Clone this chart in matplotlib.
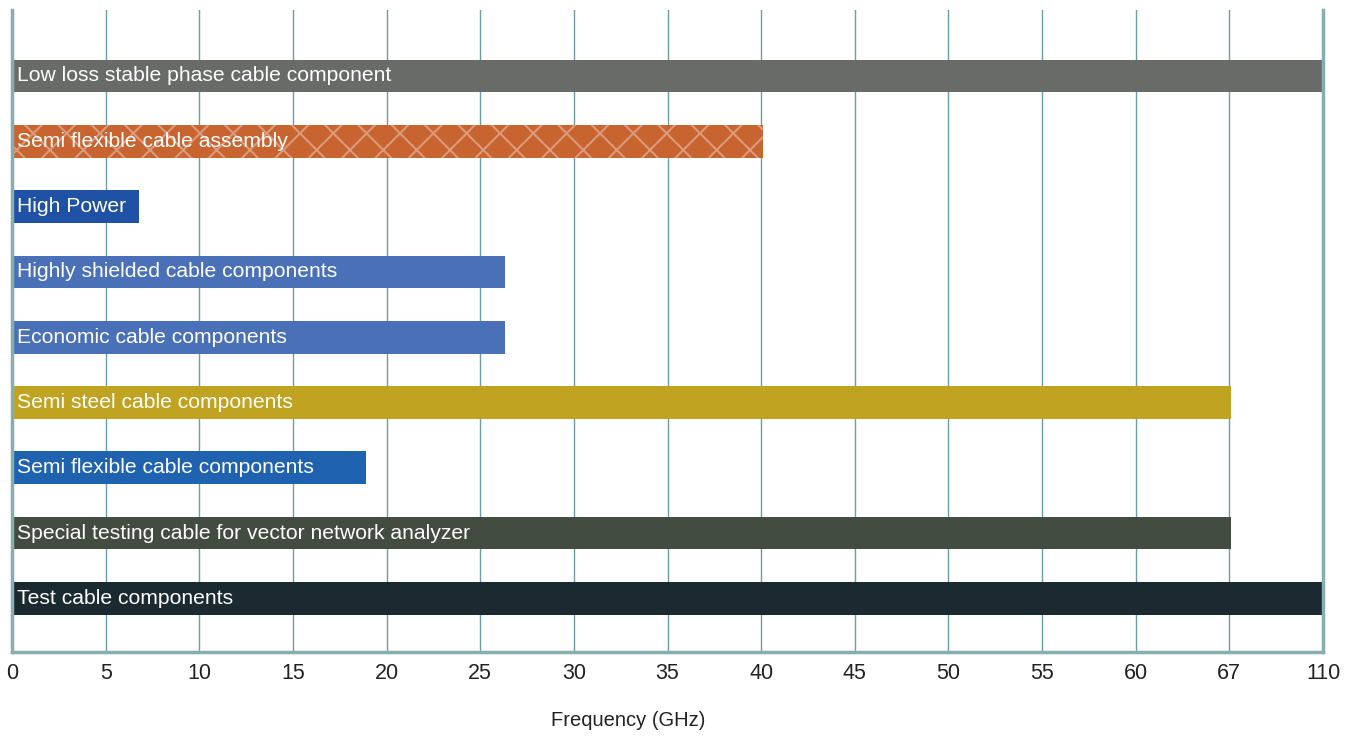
import numpy as np
import matplotlib
matplotlib.use("Agg")
import matplotlib.pyplot as plt

plt.rcParams['font.family'] = ['Liberation Sans', 'DejaVu Sans']
plt.rcParams['hatch.linewidth'] = 1.5

# tick values shown on the axis (equally spaced, non-linear scale)
tick_vals = [0, 5, 10, 15, 20, 25, 30, 35, 40, 45, 50, 55, 60, 67, 110]
tick_labels = [str(v) for v in tick_vals]

products = [
    "Low loss stable phase cable component",
    "Semi flexible cable assembly",
    "High Power",
    "Highly shielded cable components",
    "Economic cable components",
    "Semi steel cable components",
    "Semi flexible cable components",
    "Special testing cable for vector network analyzer",
    "Test cable components",
]
freq_ghz = [110, 40, 6.7, 26.2, 26.2, 67, 18.8, 67, 110]
colors = ["#696b69", "#c8642f", "#1f52a5", "#4a70b8", "#4a70b8",
          "#c0a320", "#1f62b0", "#434c40", "#1b2a31"]
hatches = [None, "x", None, None, None, None, None, None, None]

tick_pos = np.arange(len(tick_vals))
bar_len = np.interp(freq_ghz, tick_vals, tick_pos)
ypos = np.arange(len(products))[::-1]

fig = plt.figure(figsize=(13.6, 7.36), dpi=100)
ax = fig.add_axes([12 / 1360, 1 - 652 / 736, (1323 - 12) / 1360, (652 - 10) / 736])

grid_c = "#6a9ea3"
for p in tick_pos:
    ax.axvline(p, color=grid_c, lw=1, zorder=0)

for i in range(len(products)):
    if hatches[i]:
        ax.barh(ypos[i], bar_len[i], height=0.5, left=0.02, color=colors[i],
                hatch=hatches[i], edgecolor="#dc9a7c", lw=0, zorder=2)
    else:
        ax.barh(ypos[i], bar_len[i], height=0.5, left=0.02, color=colors[i],
                lw=0, zorder=2)
    ax.text(0.05, ypos[i], products[i], color="white", fontsize=15.2,
            va="center", ha="left", zorder=3)

ax.set_xlim(0, tick_pos[-1])
ax.set_ylim(-0.82, len(products) + 0.01)
ax.set_xticks(tick_pos)
ax.set_xticklabels(tick_labels, fontsize=15.5, color="#222222")
ax.set_yticks([])
ax.tick_params(axis="x", length=0, pad=8)

for s in ["left", "right", "bottom"]:
    ax.spines[s].set_color("#86aeb1")
    ax.spines[s].set_linewidth(2.5)
ax.spines["top"].set_visible(False)

fig.text(628 / 1360, 1 - 720 / 736, "Frequency (GHz)", fontsize=14.5,
         color="#222222", ha="center", va="center")

fig.savefig("out.png", dpi=100)
